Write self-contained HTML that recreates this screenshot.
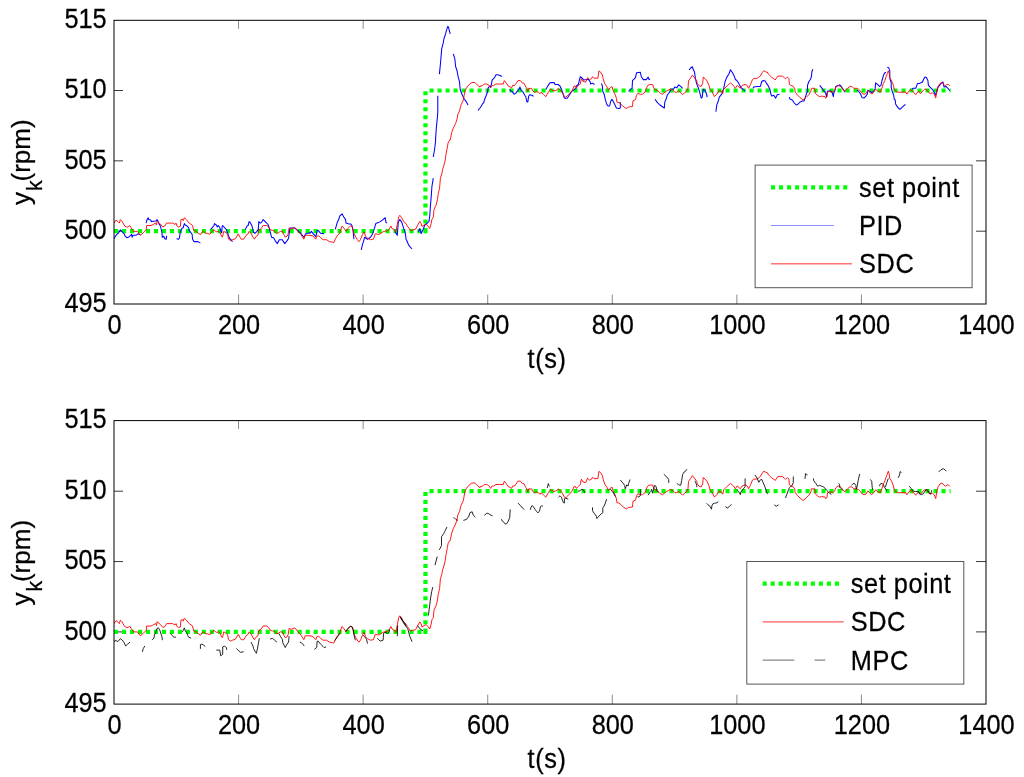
<!DOCTYPE html>
<html><head><meta charset="utf-8"><style>
html,body{margin:0;padding:0;background:#fff;}
svg{display:block;will-change:transform;filter:blur(0.3px);}
text{font-family:"Liberation Sans", sans-serif;font-size:26px;fill:#000;stroke:#000;stroke-width:0.25px;}
</style></head><body>
<svg width="1024" height="777" viewBox="0 0 1024 777">
<rect width="1024" height="777" fill="#fff"/>
<path d="M114 231.20h9M986 231.20h-10" stroke="#3a3a3a" stroke-width="1" fill="none"/>
<path d="M114 160.85h9M986 160.85h-10" stroke="#3a3a3a" stroke-width="1" fill="none"/>
<path d="M114 90.50h9M986 90.50h-10" stroke="#3a3a3a" stroke-width="1" fill="none"/>
<path d="M238.57 304.0v-9.5M238.57 20.3v8.5" stroke="#8c8c8c" stroke-width="1" fill="none"/>
<path d="M363.14 304.0v-9.5M363.14 20.3v8.5" stroke="#8c8c8c" stroke-width="1" fill="none"/>
<path d="M487.71 304.0v-9.5M487.71 20.3v8.5" stroke="#8c8c8c" stroke-width="1" fill="none"/>
<path d="M612.29 304.0v-9.5M612.29 20.3v8.5" stroke="#8c8c8c" stroke-width="1" fill="none"/>
<path d="M736.86 304.0v-9.5M736.86 20.3v8.5" stroke="#8c8c8c" stroke-width="1" fill="none"/>
<path d="M861.43 304.0v-9.5M861.43 20.3v8.5" stroke="#8c8c8c" stroke-width="1" fill="none"/>
<clipPath id="c0"><rect x="114" y="20.3" width="872" height="283.7"/></clipPath>
<g clip-path="url(#c0)">
<path d="M114 231.20H423.33" stroke="#00ff00" stroke-width="4.2" stroke-dasharray="4.1 3.885" fill="none"/>
<path d="M425.43 233.30V227.90" stroke="#00ff00" stroke-width="4.2" fill="none"/>
<path d="M425.43 223.50V88.40" stroke="#00ff00" stroke-width="4.2" stroke-dasharray="4.0 4.02" fill="none"/>
<path d="M429.5 90.50H950.6" stroke="#00ff00" stroke-width="4.2" stroke-dasharray="4.1 3.9" fill="none"/>
<path d="M114.0 238.7L116.0 235.3L117.4 233.8L118.4 233.3L120.3 229.9L121.8 231.4L123.8 233.3L125.2 236.2L126.7 237.7L128.6 237.2L130.6 235.3L131.6 234.3L132.1 237.2L133.0 235.3L136.0 235.3L137.9 233.8L140.4 234.8M146.2 223.1L146.7 220.6L148.2 217.7L148.7 219.6L150.6 220.1L151.6 221.6L156.0 221.1L157.0 219.6L157.9 221.1L158.9 223.6L160.4 226.0L161.9 232.3L162.3 237.2L163.8 236.2L164.8 238.7L166.2 239.2L166.7 235.8M176.5 238.7L178.5 239.2L179.4 238.2L180.4 231.4L181.9 228.4L183.3 227.5L184.3 223.6L185.3 225.0L187.2 226.0L188.7 227.9L189.2 230.4L192.1 234.3L192.6 239.2L194.1 241.6L198.0 241.6L200.4 243.1M210.7 229.4L214.0 225.5L214.0 225.5L214.4 223.6L216.3 225.0L217.3 227.0L218.3 225.5L219.8 227.5L220.7 230.9L221.7 232.8L222.2 226.0L222.7 225.5L226.6 229.9L228.1 234.3L229.5 238.2L232.5 241.6M245.2 229.4L247.1 226.0L248.1 225.5L249.1 221.6L250.0 222.1L252.0 226.0L253.5 232.3L254.9 233.3L256.9 231.4L258.3 229.4L258.8 221.6L260.3 223.1L261.8 222.1L263.2 219.6L265.7 222.1L268.1 224.5L269.6 229.4L271.5 237.2L273.5 237.7L275.4 241.1L277.4 243.6L279.3 239.7L282.3 239.7L284.7 243.6L287.1 240.6L288.6 238.2L289.6 229.9L290.1 227.9L294.0 227.9L297.9 230.4L300.8 233.3L303.8 237.2L305.7 233.8L310.0 232.8L310.0 233.3L311.4 231.4L313.8 234.3L315.8 236.7L317.2 230.4L318.2 230.4L320.6 233.3L324.1 233.8M335.3 229.4L337.2 222.6L338.7 219.6L339.7 216.2L342.1 213.8L343.6 216.7L345.6 219.6L346.0 223.1L349.0 224.0L350.9 224.0L351.9 225.5L352.9 229.4L353.9 239.2M361.2 249.9L362.6 244.1L363.6 241.1L364.6 237.2L366.1 238.2L367.5 239.2L370.5 237.2L372.4 234.3L374.4 228.4L375.8 223.6L378.3 222.6L380.2 221.6L383.1 219.6L385.1 217.7L386.1 222.6L387.1 223.1M394.9 231.4L397.3 235.3L398.3 222.1L399.8 219.6L401.7 222.1L403.7 228.4L405.1 232.3L406.0 238.2L405.9 239.1L407.1 241.2L408.5 244.8L412.0 249.0M418.4 232.0L419.8 228.5L421.2 233.5L422.7 230.6L424.8 225.0L426.9 223.5L429.0 221.4L429.7 216.5L430.4 206.5L431.2 196.6L431.9 186.7L433.3 178.2M433.3 157.0L434.7 148.5L435.4 142.8L435.7 140.0L435.5 140.0L436.3 128.1L437.1 120.4L437.8 112.7L437.8 95.7M439.4 74.1L440.2 66.3L440.9 58.6L441.7 48.6L443.2 43.2L444.0 38.5L445.6 33.9L446.3 30.8L447.9 26.2L448.6 27.7L450.2 33.9M453.3 54.0L454.8 58.6L455.6 66.3L457.1 71.0L457.9 75.6L459.5 81.8L460.2 89.5L461.8 94.1L464.1 98.8L466.4 101.9L468.0 104.9M478.0 110.3L480.0 108.0L480.0 108.0L481.4 106.0L482.3 104.1L483.8 102.6L484.3 100.2L485.3 97.7L486.3 95.3L487.2 92.8L487.7 90.4L488.2 87.9L489.7 86.0L490.6 87.0L491.6 83.6L492.1 80.1L493.6 78.7L495.0 76.7L496.0 74.8L497.5 74.8L499.4 75.3L501.9 76.5M509.7 89.4L510.7 90.9L512.1 91.4L514.1 94.3L516.0 92.8L518.0 90.4L519.5 88.4L519.9 87.0L520.9 89.9L522.9 91.9L524.8 95.3L525.8 96.7L526.8 101.6L527.8 102.1L528.7 96.2L529.7 94.8L531.7 95.3L533.6 96.2M545.8 89.4L547.8 86.0L549.7 83.1L551.2 82.6L554.1 82.6L555.1 84.5L558.0 84.5L560.0 86.0L561.4 88.9L562.9 93.3L564.4 98.2L567.3 98.2L569.8 94.3L571.7 91.4L576.0 88.4L576.0 88.2L576.4 86.0L578.3 84.5L580.3 76.7L581.8 77.7L583.7 80.1L586.6 79.6L588.1 79.2L590.1 81.6L590.6 84.0L592.5 83.1L594.5 84.5M601.3 83.6L602.3 85.5L602.8 91.4L604.2 94.3L605.2 99.2L606.7 104.1L608.1 106.0L609.6 106.0L610.6 101.6L612.0 99.2L613.0 101.1L615.0 105.0L616.4 108.0L618.9 108.5L620.3 108.0L620.3 102.1M628.6 91.4L630.6 89.4L632.1 88.4L632.5 80.6L635.5 77.7L636.5 72.8L640.4 72.3L641.3 76.7L643.3 79.6L646.2 79.6L648.2 77.2L649.1 79.6L650.1 79.2M655.0 99.2L657.0 102.1L659.9 105.0L662.8 107.0L664.3 108.0L664.8 102.1L666.2 98.7L667.2 95.3L668.7 93.3L670.6 90.4L672.0 88.9L672.0 89.3L673.4 89.3L674.8 86.9L676.8 87.8L678.7 84.9L680.7 86.4L682.6 88.3M689.0 69.8L690.9 67.8L692.4 66.8L692.9 68.8L694.4 71.7L694.9 74.6L695.3 77.6L696.3 82.5L697.3 85.4L698.8 89.3L700.2 94.2L701.2 98.1L702.2 97.1L703.2 89.3L705.1 90.3L706.6 94.2L707.1 97.1M715.9 111.8L716.8 104.9L718.3 101.0L719.3 97.1L721.7 94.2L722.7 91.2L723.7 88.3L725.1 81.5L726.6 77.6L729.0 73.7L730.5 69.8L732.5 72.7L734.4 76.6L735.4 79.5L736.8 80.5L738.3 82.5L739.3 84.4L740.8 87.3L743.2 89.3L745.1 91.2M753.0 88.3L753.9 86.9L756.9 86.4L760.3 86.4L761.8 81.5L763.2 80.5L765.2 81.0L766.6 83.4L768.0 85.4L768.0 85.6L769.9 89.3L770.8 93.7L771.8 96.1L773.8 95.2L775.7 98.1L777.2 94.7L779.6 94.2M789.4 97.1L789.9 99.1L792.3 100.0L794.3 103.0L796.2 104.9L797.7 104.4L800.1 102.0L802.6 101.0L804.0 101.0L805.0 98.1L806.5 93.7L807.5 91.2L807.5 85.4L808.9 81.5L810.4 79.5L811.4 76.6L811.9 71.7L812.8 69.3M819.7 85.4L822.1 88.3L824.1 91.2L825.5 92.7L826.5 96.6L827.5 91.2L829.4 90.8L831.4 91.2L832.4 93.2L833.3 96.6L833.8 92.7L834.8 91.2L835.8 86.4L838.2 85.4L839.7 84.9L841.1 86.4L843.1 89.3L845.1 92.2M856.8 90.3L858.7 91.2L860.7 94.2L862.1 97.6L864.0 98.1L864.0 98.1L865.9 96.1L867.3 94.2L867.8 90.3L869.8 91.2L871.7 92.7L873.7 91.2L875.1 89.3L875.6 82.9L877.6 84.4L879.5 86.4L881.0 85.4L882.0 80.5L883.4 75.6L884.4 73.2L885.9 72.2M887.3 67.3L888.8 67.8L889.8 70.7L889.8 78.1L891.2 82.5L891.2 87.3L892.2 91.2L893.7 95.2L894.2 99.1L895.2 100.0L895.6 103.9L897.1 106.4L899.1 108.8L900.0 109.3L901.5 107.9L905.4 104.4M911.8 89.3L913.2 88.3L915.7 88.3L917.6 83.4L919.6 83.4L920.5 82.9L922.5 82.0L923.5 79.5L924.9 77.1L926.4 77.6L927.9 80.5L928.4 85.4L930.3 87.3L932.3 89.3L934.2 92.2L935.7 95.2L937.1 90.3L938.1 87.3L941.1 83.4L943.0 82.0L944.0 86.9L945.9 86.4L947.9 88.3L949.8 90.8" stroke="#0000ff" stroke-width="1.05" fill="none" stroke-linejoin="round"/>
<path d="M114.0 223.1L116.0 220.1L117.9 221.6L119.4 223.1L120.3 219.6L121.8 221.1L124.7 226.0L126.7 227.0L128.2 227.0L129.6 225.5L131.1 227.9L133.5 231.4L137.4 231.4L140.4 235.3L143.3 232.8L146.2 229.9L146.7 225.5L151.1 225.5L153.1 224.5L155.5 223.1L156.5 225.0L157.0 221.1L160.4 224.0L162.8 227.0L164.8 226.0L166.7 223.1L172.6 223.1L175.0 224.5L176.0 223.1L177.0 226.0L178.5 227.0L180.4 226.5L180.9 219.6L182.4 219.2L183.3 220.6L184.3 217.7L186.3 219.6L189.2 223.1L192.6 225.5L193.6 230.4L196.0 231.4L200.4 234.8L201.9 232.3L203.4 231.4L205.8 233.3L207.8 233.3L209.7 234.3L211.7 231.9L214.0 229.9L214.0 229.9L215.4 230.9L216.3 231.9L218.8 231.4L219.8 232.3L220.7 234.3L222.2 237.2L222.7 236.2L223.7 231.4L225.6 232.3L227.6 234.3L228.6 239.2L230.5 240.6L232.5 239.7L235.4 238.7L238.3 233.8L240.3 237.7L241.2 239.2L243.7 239.2L246.1 235.3L248.1 233.8L249.1 231.4L251.0 233.3L253.0 237.2L254.4 239.2L255.9 236.7L257.9 235.3L258.8 229.9L260.3 229.4L261.8 227.5L263.2 225.5L266.6 225.5L268.6 227.0L270.5 229.9L272.5 230.4L274.5 230.9L276.4 233.3L278.4 232.8L280.3 231.4L282.3 231.4L284.2 235.3L285.2 237.2L287.1 236.2L288.1 234.3L289.1 227.9L291.1 228.9L294.0 227.5L295.9 228.4L297.9 231.4L300.8 234.3L303.8 239.2L305.2 235.3L307.7 235.3L310.0 235.3L310.0 235.3L312.8 235.8L314.8 238.2L315.8 239.2L316.7 236.2L318.7 235.8L320.6 237.7L323.1 239.7L326.5 239.7L329.4 241.6L332.4 242.1L333.8 242.6L335.3 239.2L337.2 235.8L339.7 233.3L340.7 229.4L342.1 226.0L344.1 228.4L346.0 231.4L348.0 228.4L350.9 225.5L352.4 227.5L353.9 233.3L355.8 237.2L357.8 240.6L359.2 241.6L360.7 239.2L362.6 234.3L364.1 231.9L365.6 236.2L367.5 238.2L370.5 239.7L373.4 239.2L375.3 233.8L377.3 234.3L379.2 234.3L382.2 232.3L384.1 231.4L387.1 230.9L389.0 229.4L391.0 226.0L391.9 228.4L393.9 229.4L395.8 231.9L397.3 224.5L398.8 216.7L399.8 215.3L401.7 217.7L403.7 221.6L406.0 223.6L405.9 223.5L407.1 225.7L410.6 230.6L412.7 229.9L415.6 229.2L417.7 225.0L419.8 221.4L421.2 223.5L421.9 226.4L424.1 225.0L426.2 224.2L428.3 226.4L429.7 228.5L431.2 223.5L431.9 219.3L433.3 217.2L434.0 209.4L436.1 205.1L437.5 199.5L438.2 193.8L439.6 188.1L440.4 178.2L441.8 174.0L442.5 169.7L443.9 165.5L445.3 159.8L446.0 154.2L447.4 147.1L448.1 142.8L449.8 140.0L450.2 140.0L451.7 132.7L453.3 128.1L455.6 123.5L457.1 118.8L457.9 114.2L459.5 111.1L461.0 104.9L463.3 100.3L464.1 95.7L464.9 91.0L466.4 88.0L468.7 84.9L471.8 82.5L474.9 82.5L477.2 84.9L480.0 87.2L480.0 86.3L482.8 85.5L484.3 84.0L486.7 84.0L488.7 85.0L490.6 87.9L492.1 85.5L493.6 85.5L496.0 84.0L499.4 84.0L503.3 84.0L504.3 80.6L506.3 83.1L508.2 86.0L510.2 87.0L511.6 87.9L512.6 85.5L514.6 85.5L516.0 83.6L518.0 80.6L520.4 80.6L522.4 83.1L523.9 83.1L525.8 87.0L526.8 88.4L527.8 91.4L528.7 88.4L531.7 88.4L532.6 90.9L534.6 92.3L536.5 91.4L538.5 92.3L540.0 93.8L540.9 92.3L543.4 94.3L545.8 96.7L548.3 92.3L550.7 88.9L552.2 90.4L554.1 90.9L556.1 90.4L558.5 88.4L560.5 90.4L562.4 92.8L564.4 96.7L565.8 97.2L567.8 95.3L569.8 93.3L572.2 90.4L574.1 86.0L576.0 86.5L576.0 87.5L576.4 87.9L578.8 85.5L580.3 84.0L581.3 78.7L583.2 81.6L585.7 82.1L587.6 77.7L589.6 79.6L591.5 78.7L592.5 76.7L594.0 78.2L597.9 78.2L598.9 70.9L600.3 71.8L602.3 74.8L603.2 78.7L604.7 83.6L606.7 86.5L608.6 89.9L610.1 87.9L612.0 86.5L613.0 90.4L615.0 94.3L616.4 98.2L616.9 102.1L618.9 102.6L620.8 104.1L622.8 106.0L626.2 108.5L628.6 107.0L632.5 106.5L633.0 100.6L635.5 99.7L636.5 95.3L637.9 93.3L640.4 94.3L642.3 94.3L645.2 91.9L646.7 87.5L648.2 85.0L650.6 84.5L652.6 84.5L654.0 88.4L656.0 89.9L657.9 90.9L659.9 92.8L662.3 94.3L664.8 92.3L666.7 90.9L668.7 89.9L670.6 88.9L672.0 89.9L672.0 89.3L674.8 92.2L676.8 92.2L678.7 90.8L680.7 92.7L682.6 94.7L684.6 92.7L686.6 91.2L688.0 88.3L688.5 81.0L690.5 78.1L692.4 75.1L694.4 77.6L696.8 81.0L697.3 83.4L699.2 85.9L701.2 86.4L702.7 83.4L703.2 77.1L705.1 78.6L707.1 81.0L709.0 85.4L710.0 89.3L711.9 91.2L714.4 96.6L716.8 94.2L718.8 90.8L721.2 91.2L722.7 93.7L723.7 89.3L726.6 86.4L730.5 82.9L733.4 85.4L735.4 88.3L737.3 85.4L740.3 88.3L742.2 85.4L745.1 84.4L747.1 85.4L748.6 88.3L750.5 84.4L752.5 79.5L753.9 78.6L756.4 78.6L758.3 77.6L760.3 76.1L762.2 72.7L763.7 70.7L765.7 71.7L768.0 72.7L768.0 73.7L769.9 75.6L771.8 77.6L773.8 78.6L775.2 80.0L776.7 77.6L777.7 76.1L782.6 76.1L784.5 78.1L785.5 78.6L787.4 77.1L788.9 78.6L789.4 84.4L790.9 85.4L793.3 86.4L794.8 88.8L795.2 92.2L797.7 95.2L800.1 97.6L803.1 100.0L806.0 97.6L808.9 94.7L810.9 91.2L811.4 88.3L814.8 88.3L815.3 93.2L817.7 95.6L819.7 96.6L821.6 96.1L825.0 96.6L825.5 98.1L827.0 97.1L827.5 92.2L829.4 91.2L832.4 92.2L834.8 90.3L835.8 87.3L838.2 85.4L841.1 86.9L843.6 90.3L845.1 91.2L847.5 88.3L849.9 86.4L851.9 86.4L853.8 88.3L856.8 88.3L858.7 89.3L860.7 91.2L862.6 93.7L864.0 94.2L864.0 94.2L865.9 93.7L867.8 90.3L869.8 92.2L871.7 94.2L873.7 92.2L875.6 89.3L878.1 91.2L880.5 92.2L881.5 89.3L883.4 83.4L884.9 80.5L885.9 77.1L887.3 73.7L888.3 70.7L889.3 73.7L889.8 78.1L891.2 80.0L892.7 83.4L893.7 86.4L894.2 89.3L895.6 91.2L897.6 92.2L905.9 92.2L906.9 94.2L908.8 91.2L910.8 89.8L912.7 91.2L915.7 94.7L917.6 92.2L918.6 91.2L920.5 93.7L923.0 90.8L924.5 89.3L926.4 89.3L928.4 92.2L930.3 93.7L932.3 92.7L934.2 94.2L935.7 98.1L937.1 89.3L938.1 86.4L940.1 83.4L942.0 82.5L944.0 84.4L945.4 85.9L946.9 84.4L948.4 84.4L949.8 85.9" stroke="#ff0000" stroke-width="0.9" fill="none" stroke-linejoin="round"/>

</g>
<rect x="114" y="20.3" width="872" height="283.7" fill="none" stroke="#000" stroke-width="1"/>
<text transform="translate(106.7,28.10) scale(0.975,1.06)" text-anchor="end">515</text>
<text transform="translate(106.7,98.35) scale(0.975,1.06)" text-anchor="end">510</text>
<text transform="translate(106.7,168.65) scale(0.975,1.06)" text-anchor="end">505</text>
<text transform="translate(106.7,239.15) scale(0.975,1.06)" text-anchor="end">500</text>
<text transform="translate(106.7,311.60) scale(0.975,1.06)" text-anchor="end">495</text>
<text transform="translate(114.50,333.80) scale(0.975,1.06)" text-anchor="middle">0</text>
<text transform="translate(239.07,333.80) scale(0.975,1.06)" text-anchor="middle">200</text>
<text transform="translate(363.64,333.80) scale(0.975,1.06)" text-anchor="middle">400</text>
<text transform="translate(488.21,333.80) scale(0.975,1.06)" text-anchor="middle">600</text>
<text transform="translate(612.79,333.80) scale(0.975,1.06)" text-anchor="middle">800</text>
<text transform="translate(737.36,333.80) scale(0.975,1.06)" text-anchor="middle">1000</text>
<text transform="translate(861.93,333.80) scale(0.975,1.06)" text-anchor="middle">1200</text>
<text transform="translate(986.50,333.80) scale(0.975,1.06)" text-anchor="middle">1400</text>
<text transform="translate(547,368.10) scale(0.975,1.06)" text-anchor="middle" letter-spacing="0.6">t(s)</text>
<text transform="translate(29.6,205.0) rotate(-90)">y<tspan font-size="21.5" dx="1" dy="12.3">k</tspan><tspan dx="-1.2" dy="-12.3">(rpm)</tspan></text>
<rect x="755.1" y="165.1" width="217" height="122.6" fill="#fff" stroke="#555" stroke-width="1"/>
<path d="M771.00 187.30h76.5" stroke="#00ff00" stroke-width="4.2" stroke-dasharray="4.0 4.03" fill="none"/>
<path d="M771.00 225.50h63" stroke="#8c8cff" stroke-width="1" fill="none"/>
<path d="M771.00 263.85h81" stroke="#ff3030" stroke-width="1" fill="none"/>
<text transform="translate(859.1,196.60) scale(0.975,1.06)" letter-spacing="0.55">set point</text>
<text transform="translate(859.1,234.90) scale(0.975,1.06)" letter-spacing="0.55">PID</text>
<text transform="translate(859.1,273.20) scale(0.975,1.06)" letter-spacing="0.55">SDC</text>
<path d="M114 631.90h9M986 631.90h-10" stroke="#3a3a3a" stroke-width="1" fill="none"/>
<path d="M114 561.55h9M986 561.55h-10" stroke="#3a3a3a" stroke-width="1" fill="none"/>
<path d="M114 491.20h9M986 491.20h-10" stroke="#3a3a3a" stroke-width="1" fill="none"/>
<path d="M238.57 704.1v-9.5M238.57 420.6v8.5" stroke="#8c8c8c" stroke-width="1" fill="none"/>
<path d="M363.14 704.1v-9.5M363.14 420.6v8.5" stroke="#8c8c8c" stroke-width="1" fill="none"/>
<path d="M487.71 704.1v-9.5M487.71 420.6v8.5" stroke="#8c8c8c" stroke-width="1" fill="none"/>
<path d="M612.29 704.1v-9.5M612.29 420.6v8.5" stroke="#8c8c8c" stroke-width="1" fill="none"/>
<path d="M736.86 704.1v-9.5M736.86 420.6v8.5" stroke="#8c8c8c" stroke-width="1" fill="none"/>
<path d="M861.43 704.1v-9.5M861.43 420.6v8.5" stroke="#8c8c8c" stroke-width="1" fill="none"/>
<clipPath id="c1"><rect x="114" y="420.6" width="872" height="283.5"/></clipPath>
<g clip-path="url(#c1)">
<path d="M114 631.90H423.33" stroke="#00ff00" stroke-width="4.2" stroke-dasharray="4.1 3.885" fill="none"/>
<path d="M425.43 634.00V628.60" stroke="#00ff00" stroke-width="4.2" fill="none"/>
<path d="M425.43 624.20V489.10" stroke="#00ff00" stroke-width="4.2" stroke-dasharray="4.0 4.02" fill="none"/>
<path d="M429.5 491.20H950.6" stroke="#00ff00" stroke-width="4.2" stroke-dasharray="4.1 3.9" fill="none"/>
<path d="M114.0 623.6L116.0 620.6L117.9 622.1L119.4 623.6L120.3 620.1L121.8 621.6L124.7 626.5L126.7 627.5L128.2 627.5L129.6 626.0L131.1 628.4L133.5 631.9L137.4 631.9L140.4 635.8L143.3 633.3L146.2 630.4L146.7 626.0L151.1 626.0L153.1 625.0L155.5 623.6L156.5 625.5L157.0 621.6L160.4 624.5L162.8 627.5L164.8 626.5L166.7 623.6L172.6 623.6L175.0 625.0L176.0 623.6L177.0 626.5L178.5 627.5L180.4 627.0L180.9 620.1L182.4 619.7L183.3 621.1L184.3 618.2L186.3 620.1L189.2 623.6L192.6 626.0L193.6 630.9L196.0 631.9L200.4 635.3L201.9 632.8L203.4 631.9L205.8 633.8L207.8 633.8L209.7 634.8L211.7 632.4L214.0 630.4L214.0 630.4L215.4 631.4L216.3 632.4L218.8 631.9L219.8 632.8L220.7 634.8L222.2 637.7L222.7 636.8L223.7 631.9L225.6 632.8L227.6 634.8L228.6 639.7L230.5 641.1L232.5 640.2L235.4 639.2L238.3 634.3L240.3 638.2L241.2 639.7L243.7 639.7L246.1 635.8L248.1 634.3L249.1 631.9L251.0 633.8L253.0 637.7L254.4 639.7L255.9 637.2L257.9 635.8L258.8 630.4L260.3 629.9L261.8 628.0L263.2 626.0L266.6 626.0L268.6 627.5L270.5 630.4L272.5 630.9L274.5 631.4L276.4 633.8L278.4 633.3L280.3 631.9L282.3 631.9L284.2 635.8L285.2 637.7L287.1 636.8L288.1 634.8L289.1 628.4L291.1 629.4L294.0 628.0L295.9 628.9L297.9 631.9L300.8 634.8L303.8 639.7L305.2 635.8L307.7 635.8L310.0 635.8L310.0 635.8L312.8 636.3L314.8 638.7L315.8 639.7L316.7 636.8L318.7 636.3L320.6 638.2L323.1 640.2L326.5 640.2L329.4 642.1L332.4 642.6L333.8 643.1L335.3 639.7L337.2 636.3L339.7 633.8L340.7 629.9L342.1 626.5L344.1 628.9L346.0 631.9L348.0 628.9L350.9 626.0L352.4 628.0L353.9 633.8L355.8 637.7L357.8 641.1L359.2 642.1L360.7 639.7L362.6 634.8L364.1 632.4L365.6 636.8L367.5 638.7L370.5 640.2L373.4 639.7L375.3 634.3L377.3 634.8L379.2 634.8L382.2 632.8L384.1 631.9L387.1 631.4L389.0 629.9L391.0 626.5L391.9 628.9L393.9 629.9L395.8 632.4L397.3 625.0L398.8 617.2L399.8 615.8L401.7 618.2L403.7 622.1L406.0 624.1L405.9 624.0L407.1 626.2L410.6 631.1L412.7 630.4L415.6 629.7L417.7 625.5L419.8 621.9L421.2 624.0L421.9 626.9L424.1 625.5L426.2 624.7L428.3 626.9L429.7 629.0L431.2 624.0L431.9 619.8L433.3 617.7L434.0 609.9L436.1 605.6L437.5 600.0L438.2 594.3L439.6 588.6L440.4 578.7L441.8 574.5L442.5 570.2L443.9 566.0L445.3 560.3L446.0 554.7L447.4 547.6L448.1 543.3L449.8 540.5L450.2 540.5L451.7 533.2L453.3 528.6L455.6 524.0L457.1 519.3L457.9 514.7L459.5 511.6L461.0 505.4L463.3 500.8L464.1 496.2L464.9 491.5L466.4 488.5L468.7 485.4L471.8 483.0L474.9 483.0L477.2 485.4L480.0 487.7L480.0 486.8L482.8 486.0L484.3 484.5L486.7 484.5L488.7 485.5L490.6 488.4L492.1 486.0L493.6 486.0L496.0 484.5L499.4 484.5L503.3 484.5L504.3 481.1L506.3 483.6L508.2 486.5L510.2 487.5L511.6 488.4L512.6 486.0L514.6 486.0L516.0 484.1L518.0 481.1L520.4 481.1L522.4 483.6L523.9 483.6L525.8 487.5L526.8 488.9L527.8 491.9L528.7 488.9L531.7 488.9L532.6 491.4L534.6 492.8L536.5 491.9L538.5 492.8L540.0 494.3L540.9 492.8L543.4 494.8L545.8 497.2L548.3 492.8L550.7 489.4L552.2 490.9L554.1 491.4L556.1 490.9L558.5 488.9L560.5 490.9L562.4 493.3L564.4 497.2L565.8 497.7L567.8 495.8L569.8 493.8L572.2 490.9L574.1 486.5L576.0 487.0L576.0 488.0L576.4 488.4L578.8 486.0L580.3 484.5L581.3 479.2L583.2 482.1L585.7 482.6L587.6 478.2L589.6 480.1L591.5 479.2L592.5 477.2L594.0 478.7L597.9 478.7L598.9 471.4L600.3 472.3L602.3 475.3L603.2 479.2L604.7 484.1L606.7 487.0L608.6 490.4L610.1 488.4L612.0 487.0L613.0 490.9L615.0 494.8L616.4 498.7L616.9 502.6L618.9 503.1L620.8 504.6L622.8 506.5L626.2 509.0L628.6 507.5L632.5 507.0L633.0 501.1L635.5 500.2L636.5 495.8L637.9 493.8L640.4 494.8L642.3 494.8L645.2 492.4L646.7 488.0L648.2 485.5L650.6 485.0L652.6 485.0L654.0 488.9L656.0 490.4L657.9 491.4L659.9 493.3L662.3 494.8L664.8 492.8L666.7 491.4L668.7 490.4L670.6 489.4L672.0 490.4L672.0 489.8L674.8 492.7L676.8 492.7L678.7 491.3L680.7 493.2L682.6 495.2L684.6 493.2L686.6 491.8L688.0 488.8L688.5 481.5L690.5 478.6L692.4 475.6L694.4 478.1L696.8 481.5L697.3 483.9L699.2 486.4L701.2 486.9L702.7 483.9L703.2 477.6L705.1 479.1L707.1 481.5L709.0 485.9L710.0 489.8L711.9 491.8L714.4 497.1L716.8 494.7L718.8 491.3L721.2 491.8L722.7 494.2L723.7 489.8L726.6 486.9L730.5 483.4L733.4 485.9L735.4 488.8L737.3 485.9L740.3 488.8L742.2 485.9L745.1 484.9L747.1 485.9L748.6 488.8L750.5 484.9L752.5 480.0L753.9 479.1L756.4 479.1L758.3 478.1L760.3 476.6L762.2 473.2L763.7 471.2L765.7 472.2L768.0 473.2L768.0 474.2L769.9 476.1L771.8 478.1L773.8 479.1L775.2 480.5L776.7 478.1L777.7 476.6L782.6 476.6L784.5 478.6L785.5 479.1L787.4 477.6L788.9 479.1L789.4 484.9L790.9 485.9L793.3 486.9L794.8 489.3L795.2 492.7L797.7 495.7L800.1 498.1L803.1 500.5L806.0 498.1L808.9 495.2L810.9 491.8L811.4 488.8L814.8 488.8L815.3 493.7L817.7 496.1L819.7 497.1L821.6 496.6L825.0 497.1L825.5 498.6L827.0 497.6L827.5 492.7L829.4 491.8L832.4 492.7L834.8 490.8L835.8 487.8L838.2 485.9L841.1 487.4L843.6 490.8L845.1 491.8L847.5 488.8L849.9 486.9L851.9 486.9L853.8 488.8L856.8 488.8L858.7 489.8L860.7 491.8L862.6 494.2L864.0 494.7L864.0 494.7L865.9 494.2L867.8 490.8L869.8 492.7L871.7 494.7L873.7 492.7L875.6 489.8L878.1 491.8L880.5 492.7L881.5 489.8L883.4 483.9L884.9 481.0L885.9 477.6L887.3 474.2L888.3 471.2L889.3 474.2L889.8 478.6L891.2 480.5L892.7 483.9L893.7 486.9L894.2 489.8L895.6 491.8L897.6 492.7L905.9 492.7L906.9 494.7L908.8 491.8L910.8 490.3L912.7 491.8L915.7 495.2L917.6 492.7L918.6 491.8L920.5 494.2L923.0 491.3L924.5 489.8L926.4 489.8L928.4 492.7L930.3 494.2L932.3 493.2L934.2 494.7L935.7 498.6L937.1 489.8L938.1 486.9L940.1 483.9L942.0 483.0L944.0 484.9L945.4 486.4L946.9 484.9L948.4 484.9L949.8 486.4" stroke="#ff0000" stroke-width="0.9" fill="none" stroke-linejoin="round"/>
<path d="M114.0 641.1L116.0 640.6L117.9 641.6L120.3 638.7L121.8 639.7L123.8 642.1L125.7 646.0L127.7 644.1L130.1 642.1M142.3 651.9L143.3 648.5L144.8 646.0M152.1 639.7L154.0 638.2L154.5 634.3L155.5 633.8L156.0 631.4L157.0 628.4L158.4 627.9L159.9 630.4L160.9 633.8L161.9 636.2L162.3 640.2M170.2 633.3L171.6 634.8L173.1 636.7L174.5 637.2L176.0 637.2M182.4 631.9L183.3 630.4L184.3 627.9L185.3 630.9L186.8 632.8L187.7 635.3L188.7 637.2L191.1 638.2M200.4 648.9L200.4 644.6L201.9 644.1L203.4 645.0L205.3 646.5M216.3 650.1L219.8 650.1L220.7 655.8L222.7 654.3L222.7 647.0L224.6 646.0L226.6 648.0L226.6 649.9M236.4 648.5L238.3 650.4L240.8 652.4L243.7 651.7M251.0 642.1L253.0 646.0L253.5 648.5L255.4 651.9L256.4 653.3L257.4 648.9L258.8 641.1L259.3 638.2M270.1 639.2L272.5 638.2L274.5 640.2L276.9 642.1M278.8 633.3L280.3 636.2L282.3 639.2L282.8 642.6L285.2 647.5L287.1 644.1L288.6 642.1L289.1 636.2M299.8 642.1L301.3 642.6L302.8 644.1L304.2 646.0M314.3 649.4L316.7 647.5L317.2 641.1L318.2 641.1L320.6 644.1L323.1 646.5L324.1 647.5L326.0 647.0M334.8 640.6L337.2 637.2L339.7 633.3M345.6 631.4L348.0 628.4L350.4 626.0L352.4 627.0L353.4 630.4L353.9 634.3L355.3 640.2M363.1 635.3L364.6 636.7L366.5 639.2L367.5 643.6M377.3 638.2L380.2 641.1L383.1 640.2L383.6 633.3L385.1 632.3L387.5 633.3L389.5 631.4L389.5 629.4M397.3 636.2L397.6 625.5M400.7 617.2L402.2 620.1L404.1 622.1L406.0 626.0M400.0 616.6L404.4 624.3L407.7 628.6L409.8 636.3L412.0 641.7M417.5 625.4L419.7 628.6L423.0 630.8M428.4 615.5L429.5 606.8L430.6 598.0L431.7 591.5L432.8 587.1M435.0 565.2L436.1 560.9L437.2 556.5M439.3 549.9L441.5 545.6L441.5 536.8L443.7 533.6L444.8 531.4L447.0 527.0M453.6 517.2L455.7 519.3L457.9 520.4M463.4 520.4L466.7 519.3L468.9 516.1L469.9 512.8L472.1 511.7L473.2 515.0L475.4 517.2M484.3 515.3L486.7 513.3L488.2 513.3L490.2 514.8L492.6 515.8M501.4 519.2L502.4 521.2L504.3 522.6L505.3 524.1L506.8 523.6L508.2 521.2L509.7 517.7L510.2 509.4M518.0 503.1L520.4 505.5L522.4 508.0L524.3 509.4M530.2 509.9L531.2 507.0L532.2 505.5L533.6 507.0L535.1 509.4L536.5 511.4L538.0 512.9L539.5 510.9L540.5 506.5L541.4 506.0L542.9 506.0M547.3 487.9L547.8 485.5L548.3 483.6L549.2 486.0L549.7 486.5M558.5 497.2L560.0 495.8L561.4 497.2L562.4 500.2L563.4 502.6L564.4 503.1L564.4 498.7L565.8 498.2L568.3 499.2M577.9 491.2L579.8 490.8L581.8 489.3L583.2 489.8L584.2 491.2L584.7 492.7M592.5 507.4L592.5 510.8L594.5 513.7L596.4 516.2L596.9 518.6L598.9 516.2L601.3 513.7L602.8 512.7L602.8 507.9L604.2 505.9L605.7 502.0L606.7 499.1M610.1 488.8L612.0 491.2L613.5 493.2L615.5 496.6M620.3 480.0L622.8 482.9L624.7 485.4L625.2 488.8L626.2 486.4L626.7 484.9L628.2 485.9L628.6 483.4L630.1 479.5M637.4 496.6L638.9 497.1L640.4 495.2L640.4 489.3M648.2 495.2L649.6 492.7L651.1 491.2L651.6 489.3L652.6 493.2L653.5 489.3L654.5 485.4L656.0 486.4L657.0 490.3L658.4 492.7M663.8 474.2L665.8 476.1L667.7 478.1L668.7 479.5L668.7 482.9M676.8 483.3L678.7 484.8L680.7 485.3L681.7 480.4L682.6 474.5L684.1 472.1L686.1 470.6L687.0 469.2M694.9 480.9L695.8 482.8L696.8 485.3L696.8 487.2M706.6 503.3L708.0 504.8L710.0 506.3L711.5 509.2L711.9 505.8L712.9 503.8L714.4 503.3L716.3 502.9L718.3 501.9M725.6 506.3L727.1 508.2L729.0 506.8L731.5 504.3M736.8 489.7L738.8 491.6L740.3 494.6L740.8 492.1L742.7 489.7L745.1 486.7L745.1 478.4M754.9 475.0L756.4 477.0L757.4 478.9L758.8 482.3L760.3 479.9L761.8 479.4L763.2 482.8L764.7 486.2L765.7 489.2L766.6 492.6L768.0 493.6M774.3 504.8L776.2 506.3L778.6 504.8M785.5 498.0L786.9 494.1L788.4 490.2L789.4 487.7L790.9 486.2L792.3 485.3L793.3 482.3L793.3 476.5M805.0 478.9L805.5 473.6L807.5 475.0M813.3 478.4L813.8 480.9L815.8 483.3L817.7 486.2L819.7 485.3L821.6 486.2L823.1 486.7L825.0 488.2L826.5 490.2L828.5 492.1L829.9 493.6L831.4 494.6M838.7 483.3L839.7 484.8L839.7 487.2L841.1 488.7L843.1 490.6M851.4 485.3L852.9 483.8L854.3 483.3L855.8 485.3L856.3 489.2L857.3 485.8L858.2 480.4L859.7 474.0M870.3 479.4L871.7 481.4L872.2 487.2L872.7 489.7M879.5 486.2L880.0 484.3L882.0 483.3L883.4 484.8L884.4 487.2L885.9 489.2L886.9 491.1M885.4 487.2L886.9 482.3L888.3 478.4M898.1 477.9L899.6 475.0L900.0 471.6L901.5 472.6M909.3 486.2L911.3 488.7L913.2 491.1L915.7 491.6L918.6 491.6L919.6 494.1L921.5 494.6L923.5 493.6L924.9 491.1L926.4 489.7L927.9 490.2L929.3 493.1L930.3 494.1L931.3 492.1L931.8 490.2M938.6 472.1L941.1 469.6L943.5 468.7L946.4 471.1" stroke="#000000" stroke-width="0.85" fill="none" stroke-linejoin="round"/>

</g>
<rect x="114" y="420.6" width="872" height="283.5" fill="none" stroke="#000" stroke-width="1"/>
<text transform="translate(106.7,428.35) scale(0.975,1.06)" text-anchor="end">515</text>
<text transform="translate(106.7,499.10) scale(0.975,1.06)" text-anchor="end">510</text>
<text transform="translate(106.7,569.30) scale(0.975,1.06)" text-anchor="end">505</text>
<text transform="translate(106.7,639.70) scale(0.975,1.06)" text-anchor="end">500</text>
<text transform="translate(106.7,711.85) scale(0.975,1.06)" text-anchor="end">495</text>
<text transform="translate(114.50,733.90) scale(0.975,1.06)" text-anchor="middle">0</text>
<text transform="translate(239.07,733.90) scale(0.975,1.06)" text-anchor="middle">200</text>
<text transform="translate(363.64,733.90) scale(0.975,1.06)" text-anchor="middle">400</text>
<text transform="translate(488.21,733.90) scale(0.975,1.06)" text-anchor="middle">600</text>
<text transform="translate(612.79,733.90) scale(0.975,1.06)" text-anchor="middle">800</text>
<text transform="translate(737.36,733.90) scale(0.975,1.06)" text-anchor="middle">1000</text>
<text transform="translate(861.93,733.90) scale(0.975,1.06)" text-anchor="middle">1200</text>
<text transform="translate(986.50,733.90) scale(0.975,1.06)" text-anchor="middle">1400</text>
<text transform="translate(547,768.20) scale(0.975,1.06)" text-anchor="middle" letter-spacing="0.6">t(s)</text>
<text transform="translate(29.6,605.6) rotate(-90)">y<tspan font-size="21.5" dx="1" dy="12.3">k</tspan><tspan dx="-1.2" dy="-12.3">(rpm)</tspan></text>
<rect x="746.8" y="561.5" width="217" height="122.6" fill="#fff" stroke="#555" stroke-width="1"/>
<path d="M762.70 583.70h76.5" stroke="#00ff00" stroke-width="4.2" stroke-dasharray="4.0 4.03" fill="none"/>
<path d="M762.70 621.90h81" stroke="#ff3030" stroke-width="1" fill="none"/>
<path d="M762.70 660.10h31.6M814.50 660.10h10.8" stroke="#6a6a6a" stroke-width="1" fill="none"/>
<text transform="translate(850.8,593.00) scale(0.975,1.06)" letter-spacing="0.55">set point</text>
<text transform="translate(850.8,631.30) scale(0.975,1.06)" letter-spacing="0.55">SDC</text>
<text transform="translate(850.8,669.60) scale(0.975,1.06)" letter-spacing="0.55">MPC</text>
</svg></body></html>
